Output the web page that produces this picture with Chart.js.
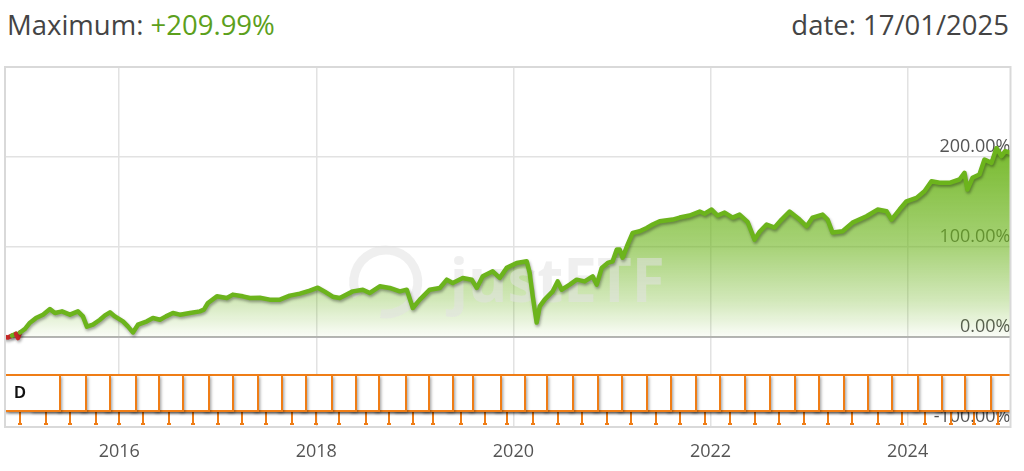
<!DOCTYPE html>
<html>
<head>
<meta charset="utf-8">
<script src="https://cdn.jsdelivr.net/npm/chart.js@4"></script>
<style>
  html, body { margin: 0; padding: 0; background: #fff; }
  body { width: 1024px; height: 471px; position: relative; overflow: hidden; font-family: 'Open Sans', sans-serif; }
  .head { position: absolute; top: 11px; font-size: 27.5px; line-height: 27.5px; color: #444; white-space: nowrap; }
  #max-label { left: 7px; }
  #date-label { right: 15px; }
  .up { color: #5ca01c; }
  canvas { position: absolute; left: 0; top: 0; }
</style>
</head>
<body>
<div class="head" id="max-label">Maximum: <span class="up">+209.99%</span></div>
<div class="head" id="date-label">date: 17/01/2025</div>
<canvas id="chart" width="1024" height="471"></canvas>
<script>
// --- Data (dates as decimal years, values in % since start) ---
const startYear = 2014.841
const endYear = 2025.044

const dates = [
    2014.841, 2014.871, 2014.912, 2014.952, 2014.973, 2014.993, 2015.044, 2015.094, 2015.155, 2015.226,
    2015.297, 2015.348, 2015.419, 2015.500, 2015.581, 2015.632, 2015.672, 2015.733, 2015.804, 2015.855,
    2015.906, 2015.956, 2016.038, 2016.088, 2016.139, 2016.190, 2016.281, 2016.342, 2016.413, 2016.474,
    2016.545, 2016.616, 2016.717, 2016.818, 2016.859, 2016.900, 2016.991, 2017.092, 2017.153, 2017.255,
    2017.326, 2017.427, 2017.528, 2017.630, 2017.731, 2017.833, 2017.934, 2018.015, 2018.086, 2018.167,
    2018.238, 2018.370, 2018.472, 2018.543, 2018.644, 2018.745, 2018.847, 2018.918, 2018.979, 2019.050,
    2019.151, 2019.253, 2019.324, 2019.384, 2019.486, 2019.577, 2019.628, 2019.689, 2019.790, 2019.861,
    2019.932, 2020.033, 2020.135, 2020.165, 2020.196, 2020.236, 2020.267, 2020.317, 2020.399, 2020.449,
    2020.490, 2020.571, 2020.642, 2020.723, 2020.804, 2020.845, 2020.896, 2020.957, 2021.007, 2021.048,
    2021.078, 2021.108, 2021.159, 2021.210, 2021.281, 2021.352, 2021.413, 2021.484, 2021.616, 2021.687,
    2021.788, 2021.890, 2021.940, 2022.011, 2022.072, 2022.143, 2022.224, 2022.295, 2022.376, 2022.447,
    2022.498, 2022.569, 2022.650, 2022.721, 2022.802, 2022.853, 2022.904, 2022.975, 2023.036, 2023.137,
    2023.188, 2023.238, 2023.340, 2023.441, 2023.583, 2023.695, 2023.786, 2023.837, 2023.918, 2023.989,
    2024.090, 2024.171, 2024.242, 2024.324, 2024.425, 2024.526, 2024.577, 2024.607, 2024.658, 2024.729,
    2024.780, 2024.851, 2024.902, 2024.952, 2024.990, 2025.044
]
const values = [
    0.0, -0.5, 1.5, 3.5, -1.2, 5.0, 9.0, 15.9, 21.0, 24.8,
    31.0, 26.7, 28.5, 24.8, 28.5, 22.9, 11.5, 13.7, 19.2, 24.0,
    27.4, 22.9, 17.4, 11.8, 5.1, 13.7, 17.4, 21.1, 19.2, 22.9,
    26.7, 24.8, 26.7, 28.5, 30.4, 37.8, 45.2, 43.4, 47.1, 45.2,
    43.4, 43.7, 41.5, 41.5, 46.0, 48.2, 51.5, 54.8, 50.4, 44.8,
    43.4, 50.7, 52.6, 48.9, 56.3, 54.5, 50.7, 52.6, 32.3, 41.5,
    52.6, 54.5, 63.7, 60.1, 65.6, 63.7, 54.5, 67.4, 73.0, 65.6,
    76.8, 82.3, 84.1, 71.2, 45.2, 16.0, 34.0, 41.5, 50.7, 61.8,
    52.6, 58.2, 63.7, 61.8, 67.4, 58.2, 76.8, 82.3, 84.1, 97.1,
    97.1, 88.2, 102.7, 115.7, 117.5, 121.2, 124.9, 128.6, 130.5, 132.7,
    135.0, 139.4, 137.0, 141.6, 135.0, 138.3, 132.7, 136.0, 128.0, 108.2,
    117.0, 125.0, 121.6, 130.5, 139.4, 135.0, 130.5, 123.0, 132.7, 136.0,
    130.5, 116.0, 117.5, 127.1, 134.2, 141.6, 139.7, 130.5, 141.6, 150.8,
    154.6, 162.0, 173.1, 171.3, 171.3, 175.0, 182.4, 163.9, 176.9, 180.5,
    197.2, 193.5, 209.99, 200.9, 206.5, 204.7
]

// quarterly distributions ("D" flags)
const dividendDates = [
    2014.993, 2015.254, 2015.500, 2015.761, 2016.000, 2016.240, 2016.504, 2016.747, 2017.001, 2017.244,
    2017.488, 2017.751, 2017.995, 2018.228, 2018.502, 2018.735, 2018.979, 2019.182, 2019.466, 2019.710,
    2019.933, 2020.196, 2020.449, 2020.693, 2020.946, 2021.190, 2021.444, 2021.687, 2021.940, 2022.193,
    2022.447, 2022.690, 2022.944, 2023.188, 2023.431, 2023.695, 2023.938, 2024.181, 2024.445, 2024.678,
    2024.921
]

const xTickYears = [2016, 2018, 2020, 2022, 2024]
const yTickValues = [-100, 0, 100, 200, 300]

// --- Styles ---
const green = '#6cb41c'
const orange = '#ef7d16'
const gridColor = '#e2e2e2'
const labelFont = { family: 'Open Sans', size: 18 }

const points = dates.map((d, i) => ({ x: d, y: values[i] }))

function fillGradient(context) {
    const chart = context.chart
    const y = chart.scales.y
    if (!y || !chart.chartArea) return 'rgba(108,180,28,0.4)'
    const top = y.getPixelForValue(210)
    const bottom = y.getPixelForValue(0)
    const g = chart.ctx.createLinearGradient(0, top, 0, bottom)
    g.addColorStop(0, 'rgba(108,180,28,0.92)')
    g.addColorStop(0.52, 'rgba(108,180,28,0.6)')
    g.addColorStop(0.81, 'rgba(108,180,28,0.3)')
    g.addColorStop(1, 'rgba(108,180,28,0.03)')
    return g
}

function drawWatermark(chart) {
    const c = chart.ctx
    const a = chart.chartArea
    const cx = (a.left + a.right) / 2
    c.save()
    c.fillStyle = 'rgba(226,226,226,0.55)'
    c.strokeStyle = 'rgba(226,226,226,0.55)'
    c.font = 'bold 60px "Open Sans"'
    c.textBaseline = 'alphabetic'
    c.textAlign = 'left'
    c.fillText('justETF', cx - 58, a.top + 235)
    c.lineWidth = 9
    c.beginPath()
    c.arc(cx - 122, a.top + 215, 32, 0.85 * Math.PI, 2.55 * Math.PI)
    c.stroke()
    c.restore()
}

// line shadow + watermark between the fill and the line
const lineShadow = {
    id: 'lineShadow',
    beforeDatasetDraw(chart, args) {
        if (args.index !== 0) return
        const c = chart.ctx
        c.save()
        c.shadowColor = 'rgba(0,0,0,0.35)'
        c.shadowBlur = 3
        c.shadowOffsetX = 1
        c.shadowOffsetY = 2
    },
    afterDatasetDraw(chart, args) {
        if (args.index === 0) chart.ctx.restore()
        if (args.index === 1) drawWatermark(chart)
    }
}

// dividend flags along the bottom of the plot
const dividendFlags = {
    id: 'dividendFlags',
    afterDatasetsDraw(chart) {
        const c = chart.ctx
        const a = chart.chartArea
        const xs = chart.scales.x
        const boxTop = a.bottom - 52
        const boxBottom = a.bottom - 16
        const half = 40
        c.save()
        c.beginPath()
        c.rect(a.left, a.top, a.right - a.left, a.bottom - a.top)
        c.clip()

        c.strokeStyle = orange
        c.fillStyle = orange
        c.lineWidth = 2
        dividendDates.forEach(d => {
            const x = Math.round(xs.getPixelForValue(d))
            c.beginPath()
            c.moveTo(x, boxBottom)
            c.lineTo(x, a.bottom - 3)
            c.stroke()
            c.fillRect(x - 2, a.bottom - 4, 4, 2)
        })

        // later flags first so the earlier ones sit on top
        for (let i = dividendDates.length - 1; i >= 0; i--) {
            const x = Math.round(xs.getPixelForValue(dividendDates[i]))
            c.save()
            c.shadowColor = 'rgba(0,0,0,0.4)'
            c.shadowBlur = 3
            c.shadowOffsetX = 2
            c.shadowOffsetY = 2
            c.fillStyle = '#fff'
            c.fillRect(x - half, boxTop, half * 2, boxBottom - boxTop)
            c.restore()
            c.strokeStyle = orange
            c.lineWidth = 2
            c.strokeRect(x - half, boxTop, half * 2, boxBottom - boxTop)
            c.fillStyle = '#111'
            c.font = 'bold 16px "Liberation Sans"'
            c.textAlign = 'center'
            c.textBaseline = 'middle'
            c.fillText('D', x, (boxTop + boxBottom) / 2 + 1)
        }
        c.restore()
    }
}

const plotBorder = {
    id: 'plotBorder',
    afterDraw(chart) {
        const c = chart.ctx
        const a = chart.chartArea
        c.save()
        c.strokeStyle = '#d9d9d9'
        c.lineWidth = 2
        c.strokeRect(a.left, a.top, a.right - a.left, a.bottom - a.top)
        c.restore()
    }
}

new Chart(document.getElementById('chart'), {
    type: 'line',
    data: {
        datasets: [{
            data: points,
            borderColor: green,
            borderWidth: 4.5,
            borderJoinStyle: 'round',
            borderCapStyle: 'round',
            pointRadius: 0,
            fill: false,
            segment: {
                borderColor: s => (s.p0.parsed.y < 0 || s.p1.parsed.y < 0) ? '#c62828' : undefined
            }
        }, {
            data: points,
            borderWidth: 0,
            borderColor: 'transparent',
            pointRadius: 0,
            fill: 'origin',
            backgroundColor: fillGradient
        }]
    },
    options: {
        responsive: false,
        animation: false,
        devicePixelRatio: 1,
        layout: { padding: { top: 67, left: 5, right: 13.5, bottom: 0 } },
        plugins: { legend: { display: false }, tooltip: { enabled: false } },
        scales: {
            x: {
                type: 'linear',
                min: startYear,
                max: endYear,
                afterBuildTicks: s => { s.ticks = xTickYears.map(v => ({ value: v })) },
                afterFit: s => { s.height = 44 },
                grid: { color: gridColor, lineWidth: 1.5, drawTicks: false },
                border: { display: false },
                ticks: { color: '#555', font: labelFont, padding: 14, maxRotation: 0, callback: v => String(v) }
            },
            y: {
                position: 'right',
                min: -100,
                max: 300,
                afterBuildTicks: s => { s.ticks = yTickValues.map(v => ({ value: v })) },
                afterFit: s => { s.width = 0 },
                grid: {
                    color: c => (c.tick && c.tick.value === 0) ? '#b4b4b4' : gridColor,
                    lineWidth: c => (c.tick && c.tick.value === 0) ? 2 : 1.5,
                    drawTicks: false
                },
                border: { display: false },
                ticks: {
                    mirror: true,
                    padding: 0,
                    labelOffset: -10,
                    color: '#555',
                    font: labelFont,
                    callback: v => v === 300 ? '' : v.toFixed(2) + '%'
                }
            }
        }
    },
    plugins: [lineShadow, dividendFlags, plotBorder]
})
</script>
</body>
</html>
